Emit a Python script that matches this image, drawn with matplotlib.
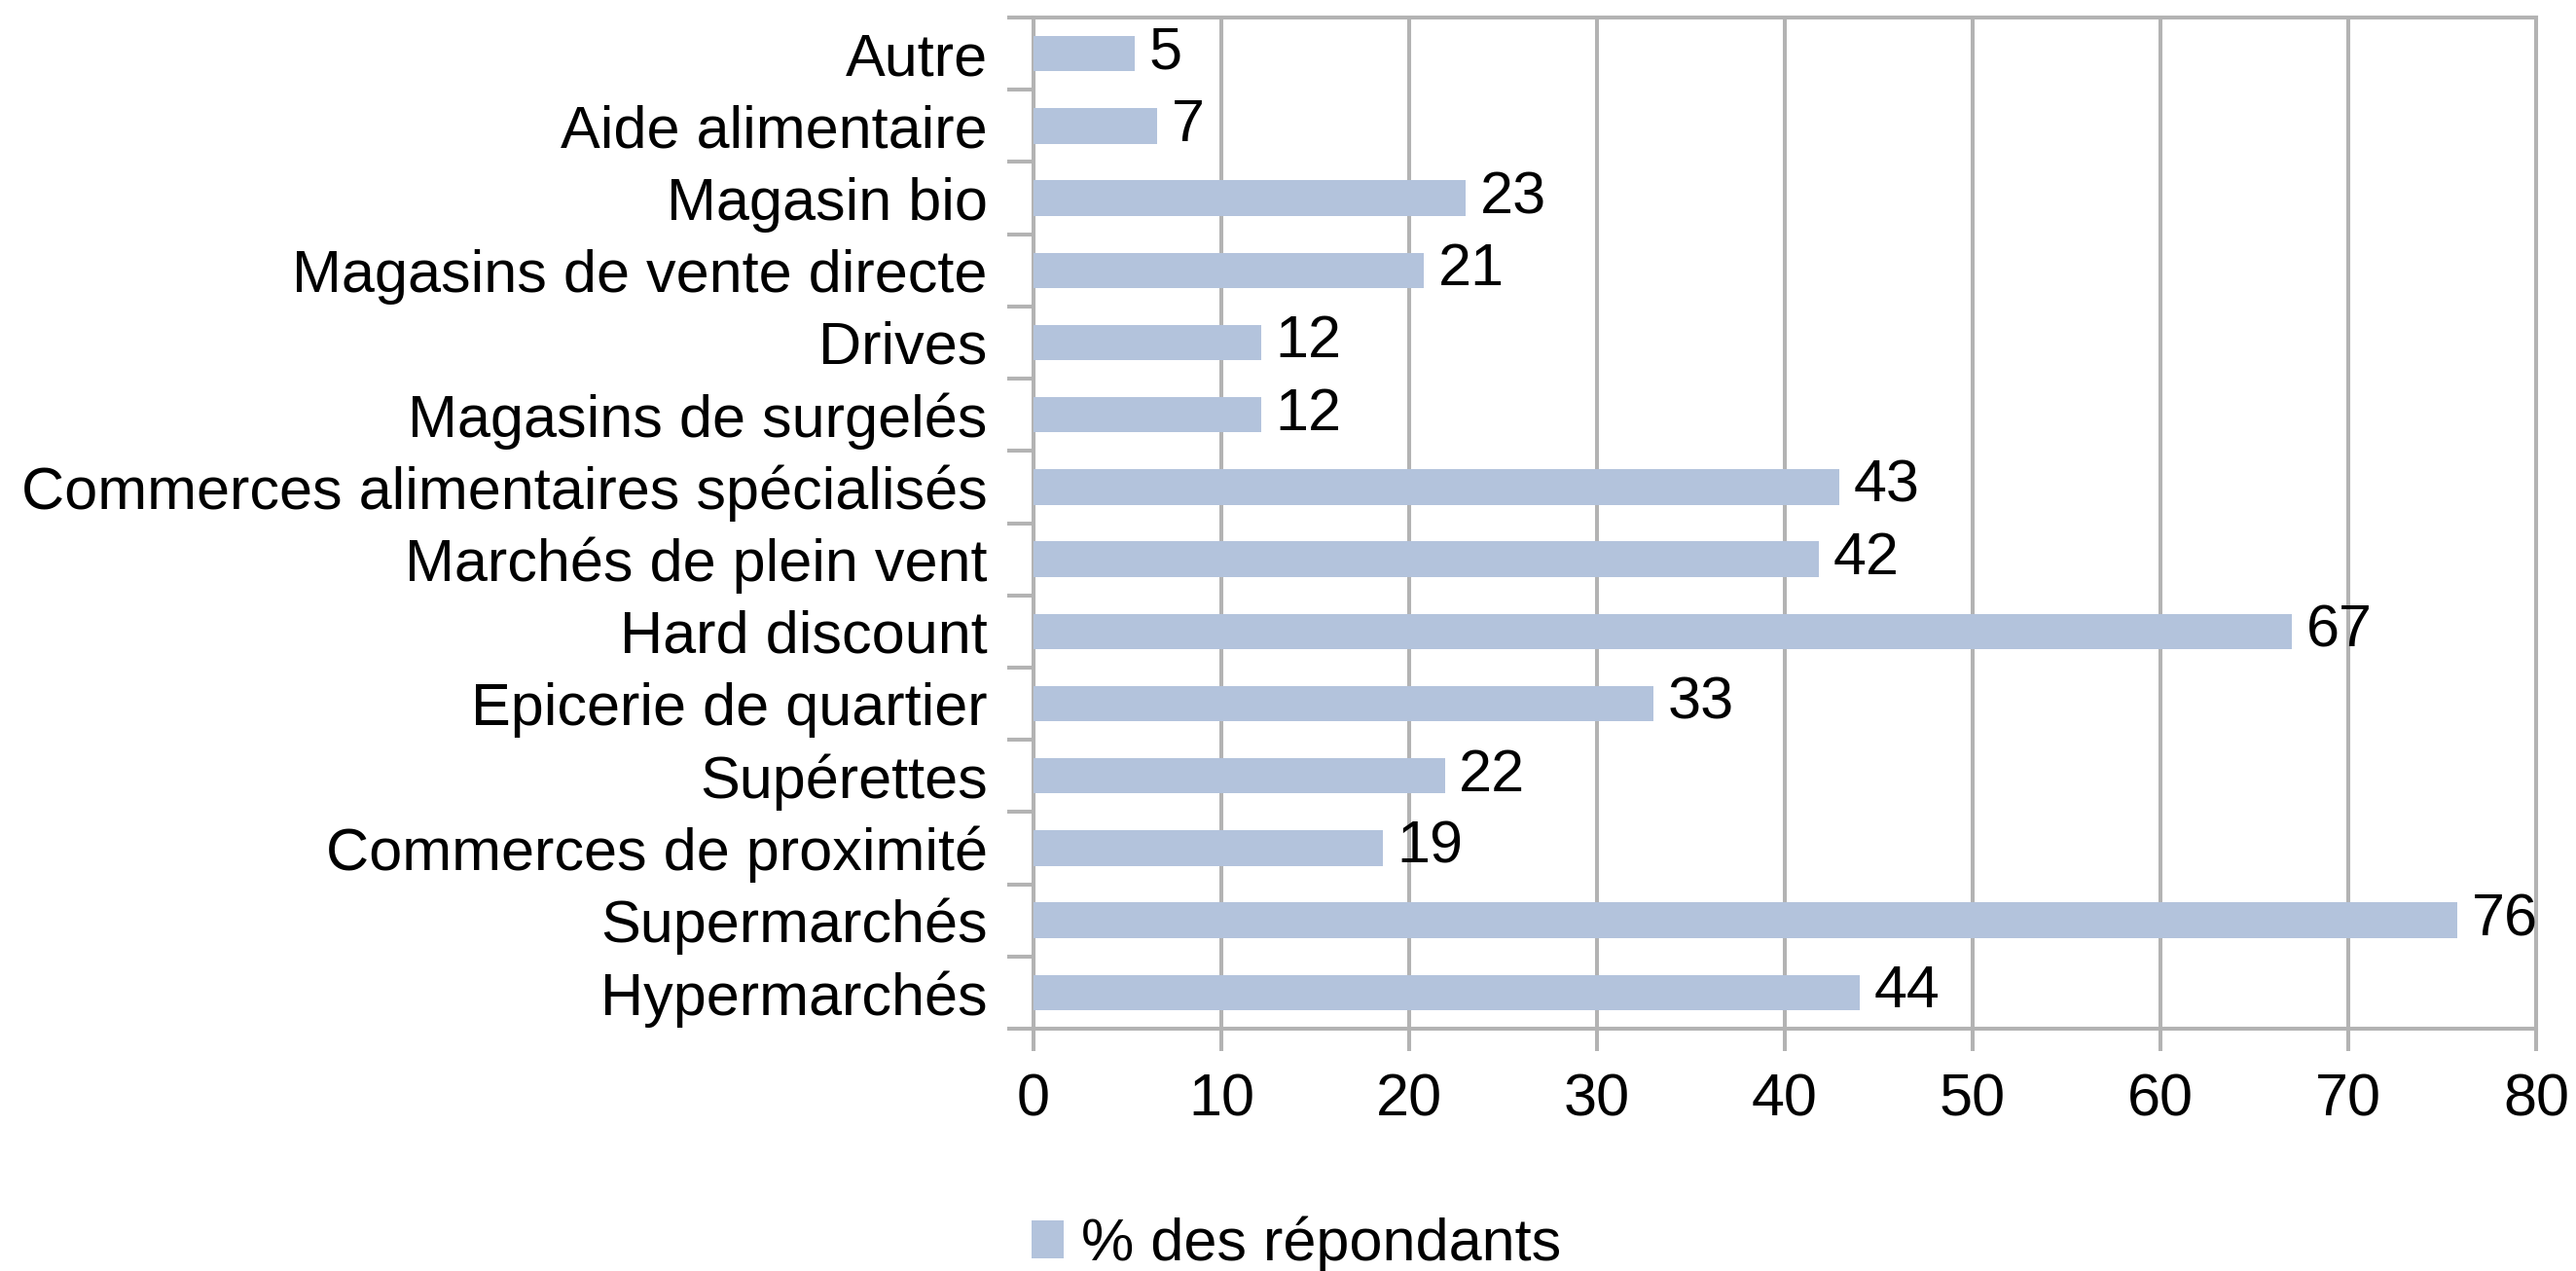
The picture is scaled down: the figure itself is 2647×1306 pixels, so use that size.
import matplotlib
matplotlib.use("Agg")
import matplotlib.pyplot as plt
from matplotlib.ticker import FixedLocator

categories = ["Autre", "Aide alimentaire", "Magasin bio", "Magasins de vente directe",
              "Drives", "Magasins de surgelés", "Commerces alimentaires spécialisés",
              "Marchés de plein vent", "Hard discount", "Epicerie de quartier",
              "Supérettes", "Commerces de proximité", "Supermarchés", "Hypermarchés"]
values = [5.4, 6.6, 23.0, 20.8, 12.1, 12.1, 42.9, 41.8, 67.0, 33.0, 21.9, 18.6, 75.8, 44.0]
value_labels = ["5", "7", "23", "21", "12", "12", "43", "42", "67", "33", "22", "19", "76", "44"]
series_name = "% des répondants"
x_ticks = [0, 10, 20, 30, 40, 50, 60, 70, 80]

plt.rcParams['font.family'] = ['Liberation Sans', 'DejaVu Sans']
FS = 44
GRAY = "#b3b3b3"
BAR = "#b3c3dc"
LW = 2.9

fig = plt.figure(figsize=(26.47, 13.06), dpi=100)
ax = fig.add_axes([1062/2647, 1 - 1057/1306, (2606-1062)/2647, (1057-18)/1306])

ypos = list(range(len(categories)))
bars = ax.barh(ypos, values, height=0.49, color=BAR, zorder=3, label=series_name)
ax.bar_label(bars, labels=value_labels, padding=10.5, fontsize=FS, color="black", zorder=4)

ax.set_xlim(0, 80)
ax.set_ylim(len(categories) - 0.5, -0.5)
ax.set_xticks(x_ticks)
ax.set_xticklabels([str(t) for t in x_ticks])
ax.set_yticks(ypos)
ax.set_yticklabels(categories)
ax.yaxis.set_minor_locator(FixedLocator([i - 0.5 for i in range(len(categories) + 1)]))

ax.tick_params(axis='y', which='major', length=0, pad=34, labelsize=FS, labelcolor="black")
ax.tick_params(axis='y', which='minor', length=19.4, width=LW, color=GRAY, direction='out')
ax.tick_params(axis='x', which='major', length=16.6, width=LW, color=GRAY, direction='out',
               pad=16, labelsize=FS, labelcolor="black")

ax.xaxis.grid(True, color=GRAY, linewidth=LW, zorder=1)
ax.set_axisbelow(True)
for s in ax.spines.values():
    s.set_color(GRAY)
    s.set_linewidth(LW)
    s.set_zorder(2)

fig.legend(handles=[bars], labels=[series_name], loc='center left',
           bbox_to_anchor=(1060/2647, 1 - 1279/1306), frameon=False, fontsize=FS,
           handlelength=0.54, handleheight=0.59, handletextpad=0.3,
           borderpad=0, borderaxespad=0)

fig.savefig("out.png", dpi=100)
